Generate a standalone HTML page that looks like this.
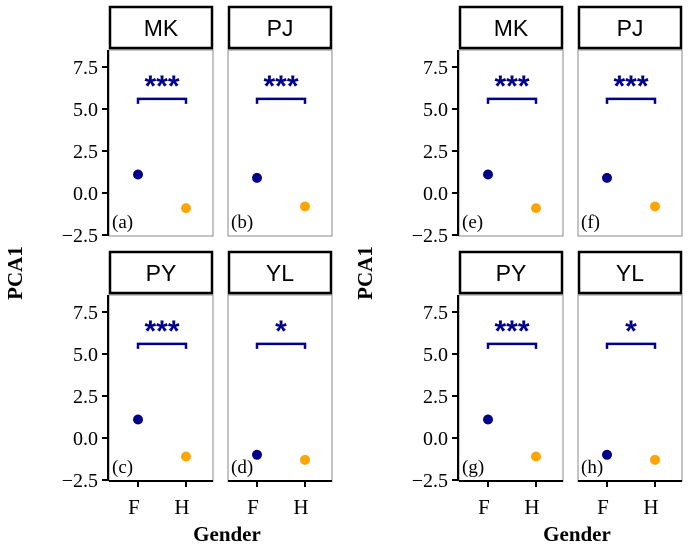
<!DOCTYPE html>
<html><head><meta charset="utf-8"><style>
body{margin:0;background:#fff}
svg text{font-family:"Liberation Serif",serif}
</style></head><body>
<svg id="c" width="700" height="546" xmlns="http://www.w3.org/2000/svg"></svg>
<script>
const sites=["MK","PJ","PY","YL"];
const valF=[1.1,0.9,1.1,-1.0];
const valH=[-0.9,-0.8,-1.1,-1.3];
const sig=["***","***","***","*"];
const yTicks=[7.5,5.0,2.5,0.0,-2.5];
const yTickLabels=["7.5","5.0","2.5","0.0","\u22122.5"];
const genders=["F","H"];
const panelLetters=[["a","b","c","d"],["e","f","g","h"]];
const bracketY=5.6;
const NS="http://www.w3.org/2000/svg";
const svg=document.getElementById("c");
function mk(tag,attrs,parent,text){const e=document.createElementNS(NS,tag);for(const k in attrs)e.setAttribute(k,attrs[k]);if(text!==undefined)e.textContent=text;(parent||svg).appendChild(e);return e;}
const panelW=104, bodyTop=[50,295], bodyH=186;
function yS(v,row){return bodyTop[row]+185-(v+2.5)*(168/10);}
function xS(i,left){return left+29+i*48;}
for(let half=0;half<2;half++){
  const ox=half*350;
  const yl=mk("text",{x:ox+22,y:273,"font-size":21,"font-weight":"bold","text-anchor":"middle",transform:`rotate(-90 ${ox+22} 273)`},svg,"PCA1");
  
  
  const xl=mk("text",{x:ox+227,y:541,"font-size":21,"font-weight":"bold","text-anchor":"middle"},svg,"Gender");
  
  
  for(let p=0;p<4;p++){
    const row=Math.floor(p/2), col=p%2;
    const left=ox+109+col*119, top=bodyTop[row];
    const g=mk("g",{});
    
    
    const strip=mk("rect",{x:left+1,y:top-43,width:panelW-2,height:41,fill:"#fff",stroke:"#000","stroke-width":2.5},g);
    
    
    const st=mk("text",{x:left+panelW/2,y:top-14,"font-size":23,"text-anchor":"middle",style:"font-family:'Liberation Sans',sans-serif"},g,sites[p]);
    
    
    const body=mk("rect",{x:left,y:top,width:panelW,height:bodyH,fill:"#fff",stroke:"#888","stroke-width":1},g);
    
    
    if(col===0){
      const ax=mk("line",{x1:left-1,y1:top,x2:left-1,y2:top+bodyH,stroke:"#000","stroke-width":2},g);
      
      
      yTicks.forEach((t,i)=>{
        const y=yS(t,row);
        mk("line",{x1:left-7,y1:y,x2:left-1,y2:y,stroke:"#000","stroke-width":2},g);
        const tl=mk("text",{x:left-11,y:y+7,"font-size":20,"text-anchor":"end"},g,yTickLabels[i]);
        
        
      });
    }
    if(row===1){
      const bx=mk("line",{x1:left,y1:top+bodyH,x2:left+panelW,y2:top+bodyH,stroke:"#000","stroke-width":2},g);
      
      
      genders.forEach((gname,i)=>{
        const x=xS(i,left);
        mk("line",{x1:x,y1:top+bodyH,x2:x,y2:top+bodyH+6,stroke:"#000","stroke-width":2},g);
        const xt=mk("text",{x:x-4,y:top+bodyH+33,"font-size":21,"text-anchor":"middle"},g,gname);
        
        
      });
    }
    const by=yS(bracketY,row), x0=xS(0,left), x1=xS(1,left);
    const br=mk("path",{d:`M${x0} ${by+5}V${by}H${x1}V${by+5}`,fill:"none",stroke:"#00008B","stroke-width":2.5},g);
    
    
    const sg=mk("text",{x:(x0+x1)/2,y:by-3,"font-size":30,"font-weight":"bold","text-anchor":"middle",fill:"#00008B",style:"font-family:'Liberation Sans',sans-serif"},g,sig[p]);
    
    
    const pf=mk("circle",{cx:x0,cy:yS(valF[p],row),r:5,fill:"#00008B"},g);
    
    
    const ph=mk("circle",{cx:x1,cy:yS(valH[p],row),r:5,fill:"#FFA500"},g);
    
    
    const pl=mk("text",{x:left+3,y:top+bodyH-8,"font-size":19},g,"("+panelLetters[half][p]+")");
    
    
  }
}
</script>
</body></html>
